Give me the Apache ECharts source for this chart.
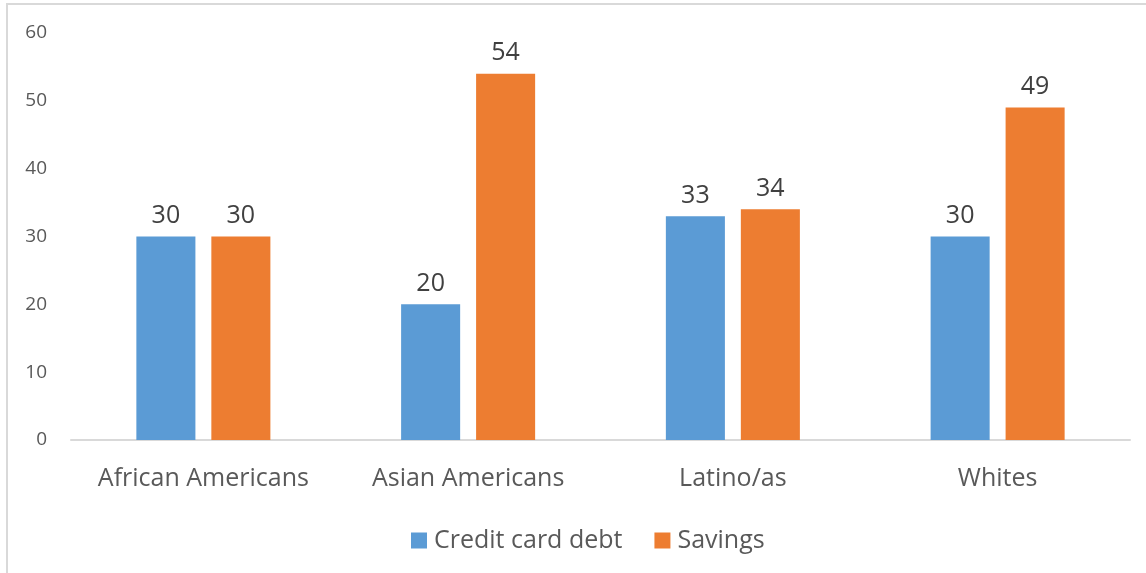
<!DOCTYPE html>
<html>
<head>
<meta charset="utf-8">
<style>
  html, body { margin: 0; padding: 0; background: #ffffff; }
  #chart { width: 1146px; height: 573px; }
</style>
<script src="https://cdn.jsdelivr.net/npm/echarts@6/dist/echarts.min.js"></script>
</head>
<body>
<div id="chart"></div>
<script>
// Share of each group (%) holding credit card debt vs. savings
const categories = ['African Americans', 'Asian Americans', 'Latino/as', 'Whites'];
const creditCardDebt = [30, 20, 33, 30];
const savings = [30, 54, 34, 49];
const seriesNames = ['Credit card debt', 'Savings'];

const FONT = '"Open Sans", "Liberation Sans", sans-serif';
const chart = echarts.init(document.getElementById('chart'), null, { renderer: 'canvas' });

const labelStyle = {
  show: true,
  position: 'top',
  distance: 8,
  fontSize: 25,
  fontFamily: FONT,
  color: '#404040'
};

chart.setOption({
  animation: false,
  backgroundColor: '#ffffff',
  graphic: [{
    type: 'rect',
    shape: { x: 7, y: 4, width: 1200, height: 700 },
    style: { fill: 'none', stroke: '#d9d9d9', lineWidth: 2 },
    silent: true
  }],
  grid: { left: 71, right: 16, top: 33, bottom: 133, containLabel: false },
  legend: {
    data: seriesNames,
    left: 406,
    top: 523,
    itemWidth: 16,
    itemHeight: 16,
    itemGap: 32,
    icon: 'rect',
    textStyle: { fontSize: 25, fontFamily: FONT, color: '#595959', padding: [0, 0, 0, 2] }
  },
  xAxis: {
    type: 'category',
    data: categories,
    axisLine: { lineStyle: { color: '#d9d9d9', width: 2 } },
    axisTick: { show: false },
    axisLabel: { interval: 0, fontSize: 25, fontFamily: FONT, color: '#595959', margin: 26 }
  },
  yAxis: {
    type: 'value',
    min: 0,
    max: 60,
    interval: 10,
    axisLine: { show: false },
    axisTick: { show: false },
    splitLine: { show: false },
    axisLabel: { fontSize: 19, fontFamily: FONT, color: '#595959', margin: 24 }
  },
  series: [
    {
      name: seriesNames[0],
      type: 'bar',
      data: creditCardDebt,
      barWidth: '22.3%',
      barGap: '27%',
      itemStyle: { color: '#5b9bd5' },
      label: labelStyle
    },
    {
      name: seriesNames[1],
      type: 'bar',
      data: savings,
      barWidth: '22.3%',
      barGap: '27%',
      itemStyle: { color: '#ed7d31' },
      label: labelStyle
    }
  ]
});
</script>
</body>
</html>
